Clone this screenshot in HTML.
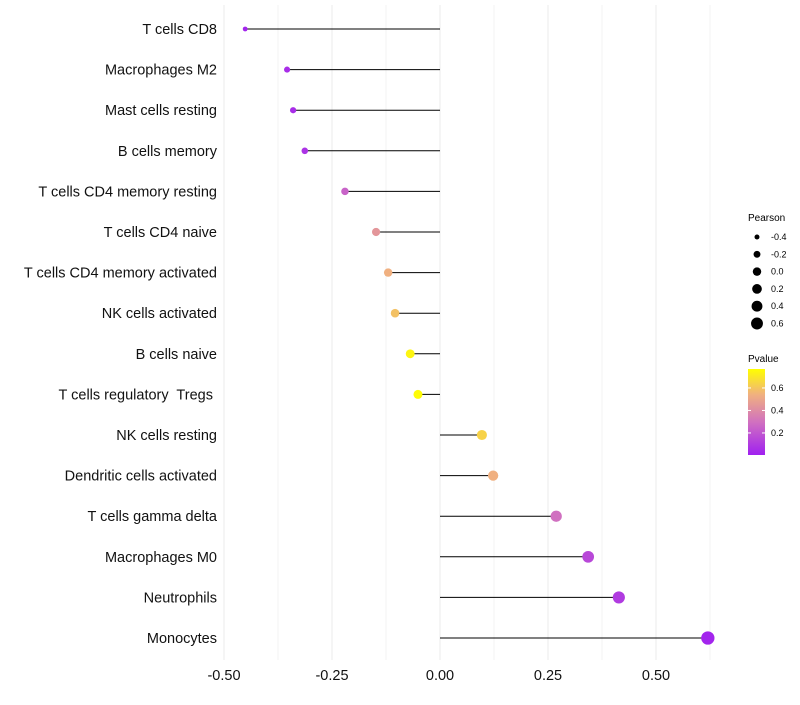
<!DOCTYPE html>
<html><head><meta charset="utf-8"><style>
body{margin:0;background:#fff;font-family:"Liberation Sans",sans-serif}
text{white-space:pre}
</style></head><body>
<svg id="chart" width="800" height="700">
<defs><linearGradient id="pg" x1="0" y1="1" x2="0" y2="0">
<stop offset="0" stop-color="#A020F0"/><stop offset="0.38" stop-color="#D070C0"/><stop offset="0.7" stop-color="#F0B080"/><stop offset="1" stop-color="#FFFF00"/>
</linearGradient></defs>
<g id="grid"></g><g id="marks"></g><g id="axes"></g>
<g font-size="9">
<text x="748" y="221" font-size="10">Pearson</text>
<g id="sizeleg"></g>
<text x="748" y="362" font-size="10">Pvalue</text>
<rect x="748" y="369" width="17" height="86" fill="url(#pg)"/>
<g id="colleg"></g>
</g>
</svg>
<script>
const cats=["T cells CD8","Macrophages M2","Mast cells resting","B cells memory","T cells CD4 memory resting","T cells CD4 naive","T cells CD4 memory activated","NK cells activated","B cells naive","T cells regulatory  Tregs ","NK cells resting","Dendritic cells activated","T cells gamma delta","Macrophages M0","Neutrophils","Monocytes"];
const pearson=[-0.451,-0.354,-0.340,-0.313,-0.220,-0.148,-0.120,-0.104,-0.069,-0.051,0.097,0.123,0.269,0.343,0.414,0.620];
const pvals=[0.02,0.05,0.05,0.07,0.25,0.45,0.55,0.6,0.75,0.77,0.65,0.55,0.3,0.15,0.1,0.02];
const xticks=[-0.5,-0.25,0,0.25,0.5];
const xtickLabels=["-0.50","-0.25","0.00","0.25","0.50"];
const sizeLegend=[-0.4,-0.2,0,0.2,0.4,0.6];
const sizeLegendLabels=["-0.4","-0.2","0.0","0.2","0.4","0.6"];
const colTicks=[0.2,0.4,0.6];
const NS="http://www.w3.org/2000/svg";
const X=v=>440+v*432;
const Y=i=>29+i*40.6;
const R=v=>Math.sqrt(Math.max(1,22+36*v));
const stops=[[0,[160,32,240]],[0.3,[208,112,192]],[0.55,[240,176,128]],[0.78,[255,255,0]]];
function col(p){for(let i=1;i<stops.length;i++){if(p<=stops[i][0]||i==stops.length-1){const a=stops[i-1],b=stops[i];let t=(p-a[0])/(b[0]-a[0]);t=Math.max(0,Math.min(1,t));return "rgb("+a[1].map((c,k)=>Math.round(c+(b[1][k]-c)*t)).join(",")+")";}}}
function mk(t,at,p){const e=document.createElementNS(NS,t);for(const k in at)e.setAttribute(k,at[k]);p.appendChild(e);return e;}
const grid=document.getElementById('grid'),marks=document.getElementById('marks'),axes=document.getElementById('axes');
for(let v=-0.5;v<=0.625;v+=0.125){const g=mk('line',{x1:X(v),x2:X(v),y1:5,y2:660,stroke:Math.abs((v*4)%1)<1e-6?'#ebebeb':'#f3f3f3','stroke-width':1},grid);

}
cats.forEach((c,i)=>{
const t=mk('text',{x:217,y:Y(i)+5,'text-anchor':'end','font-size':14.5,fill:'#111'},axes);t.textContent=c;


const l=mk('line',{x1:X(0),x2:X(pearson[i]),y1:Y(i),y2:Y(i),stroke:'#000','stroke-width':1},marks);


const p=mk('circle',{cx:X(pearson[i]),cy:Y(i),r:R(pearson[i]),fill:col(pvals[i])},marks);


});
xticks.forEach((v,i)=>{const t=mk('text',{x:X(v),y:680,'text-anchor':'middle','font-size':14.5,fill:'#111'},axes);t.textContent=xtickLabels[i];

});
const sl=document.getElementById('sizeleg');
sizeLegend.forEach((v,i)=>{const y=237+i*17.3;
const c=mk('circle',{cx:757,cy:y,r:R(v)*0.9,fill:'#000'},sl);


const t=mk('text',{x:771,y:y+3,'font-size':9},sl);t.textContent=sizeLegendLabels[i];

});
const cl=document.getElementById('colleg');
colTicks.forEach(v=>{const y=455-(v-0.004)*112.5;
mk('line',{x1:748,x2:751,y1:y,y2:y,stroke:'#fff'},cl);mk('line',{x1:762,x2:765,y1:y,y2:y,stroke:'#fff'},cl);
const t=mk('text',{x:771,y:y+3,'font-size':9},cl);t.textContent=v.toFixed(1);

});
</script>
</body></html>
